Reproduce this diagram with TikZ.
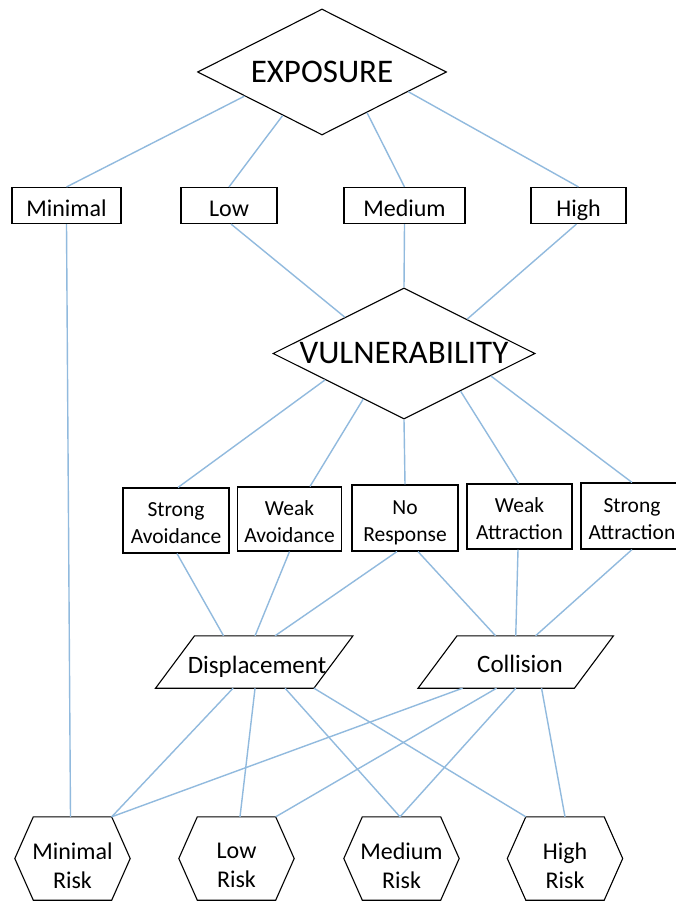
\documentclass[tikz,border=0pt]{standalone}
\usepackage{fontspec}
\setmainfont{Carlito}
\usetikzlibrary{shapes.geometric,calc}
\definecolor{linkblue}{RGB}{145,186,222}
\newcommand\mytwolines[2]{\rule{0pt}{24.4pt}#1\\#2\rule[-5pt]{0pt}{5pt}}
\begin{document}
\begin{tikzpicture}[x=1pt,y=-1pt,
  shp/.style={draw=black,line width=1.1pt},
  link/.style={draw=linkblue,line width=1.4pt},
  dia/.style={shape=diamond,shp,inner sep=0pt},
  topbox/.style={rectangle,shp,inner sep=0pt,minimum height=36pt,text height=24pt,text depth=1pt,font=\fontsize{24}{28}\selectfont},
  midbox/.style={rectangle,shp,inner sep=0pt,align=center,font=\fontsize{21.5}{27}\selectfont},
  frame/.style={rectangle,inner sep=0pt},
  ptext/.style={anchor=base,inner sep=0pt,font=\fontsize{25}{30}\selectfont},
  rtext/.style={align=center,inner sep=0pt,font=\fontsize{24}{28.5}\selectfont}
]
\useasboundingbox (0,0) rectangle (676,901);
\fill[white] (0,0) rectangle (676,901);

% level 1
\node[dia,minimum width=249pt,minimum height=126pt,aspect=1.98,font=\fontsize{33}{38}\selectfont] (expo) at (322,72) {EXPOSURE};

% level 2
\node[topbox,minimum width=109pt] (min) at (66.5,205.5) {Minimal};
\node[topbox,minimum width=96pt] (low) at (229,205.5) {Low};
\node[topbox,minimum width=121pt] (med) at (404.5,205.5) {Medium};
\node[topbox,minimum width=95pt] (high) at (578.5,205.5) {High};

% level 3
\node[dia,minimum width=262pt,minimum height=131pt,aspect=2,font=\fontsize{33}{38}\selectfont] (vul) at (404,353.5) {VULNERABILITY};

% level 4
\node[midbox,minimum width=106pt,minimum height=65pt] (sa) at (176,520.5) {\mytwolines{Strong}{Avoidance}};
\node[midbox,minimum width=104pt,minimum height=64pt] (wa) at (289.5,519) {\mytwolines{Weak}{Avoidance}};
\node[midbox,minimum width=106pt,minimum height=66pt] (nr) at (405,518) {\mytwolines{No}{Response}};
\node[midbox,minimum width=105pt,minimum height=65pt] (wat) at (519.5,516.5) {\mytwolines{Weak}{Attraction}};
\node[midbox,minimum width=102pt,minimum height=66pt] (sat) at (632,516) {\mytwolines{Strong}{Attraction}};

% level 5 (parallelograms)
\node[frame,minimum width=158pt,minimum height=52pt] (disp) at (254.25,662) {};
\node[frame,minimum width=156pt,minimum height=52pt] (coll) at (515.75,662) {};
\foreach \n in {disp,coll}
  \draw[shp] ([xshift=19.5pt]\n.north west) -- ([xshift=19.5pt]\n.north east)
    -- ([xshift=-19.5pt]\n.south east) -- ([xshift=-19.5pt]\n.south west) -- cycle;
\node[ptext] (dispt) at (257,673) {Displacement};
\node[ptext] (collt) at (520,672) {Collision};

% level 6 (hexagons)
\node[frame,minimum width=115pt,minimum height=83pt] (mr) at (72.5,858.5) {};
\node[frame,minimum width=115pt,minimum height=83pt] (lr) at (236.5,858.5) {};
\node[frame,minimum width=115pt,minimum height=83pt] (medr) at (401.5,858.5) {};
\node[frame,minimum width=115pt,minimum height=83pt] (hr) at (565,858.5) {};
\foreach \n in {mr,lr,medr,hr}
  \draw[shp] (\n.west) -- ([xshift=18.5pt]\n.north west) -- ([xshift=-18.5pt]\n.north east)
    -- (\n.east) -- ([xshift=-18.5pt]\n.south east) -- ([xshift=18.5pt]\n.south west) -- cycle;
\node[rtext] (mrt) at (72.5,865.5) {Minimal\\Risk};
\node[rtext] (lrt) at (236.5,865.5) {Low\\Risk};
\node[rtext] (medrt) at (401.5,865.5) {Medium\\Risk};
\node[rtext] (hrt) at (565,865.5) {High\\Risk};

% connectors: exposure -> level 2
\draw[link] ($(expo.west)!0.38!(expo.south)$) -- (min.north);
\draw[link] ($(expo.west)!0.685!(expo.south)$) -- (low.north);
\draw[link] ($(expo.south)!0.36!(expo.east)$) -- (med.north);
\draw[link] ($(expo.south)!0.69!(expo.east)$) -- (high.north);

% level 2 -> vulnerability / minimal risk
\draw[link] (min.south) -- ([xshift=-2pt]mr.north);
\draw[link] ([xshift=2pt]low.south) -- ($(vul.west)!0.55!(vul.north)$);
\draw[link] (med.south) -- (vul.north);
\draw[link] ([xshift=-2pt]high.south) -- ($(vul.north)!0.48!(vul.east)$);

% vulnerability -> level 4
\draw[link] ($(vul.west)!0.40!(vul.south)$) -- ([xshift=2pt]sa.north);
\draw[link] ($(vul.west)!0.69!(vul.south)$) -- ([xshift=20.5pt]wa.north);
\draw[link] (vul.south) -- (nr.north);
\draw[link] ($(vul.south)!0.43!(vul.east)$) -- ([xshift=-1pt]wat.north);
\draw[link] ($(vul.south)!0.66!(vul.east)$) -- (sat.north);

% level 4 -> displacement / collision
\draw[link] ([xshift=1pt]sa.south) -- ([xshift=48.5pt]disp.north west);
\draw[link] (wa.south) -- ([xshift=80pt]disp.north west);
\draw[link] ([xshift=-8pt]nr.south) -- ([xshift=100pt]disp.north west);
\draw[link] ([xshift=13pt]nr.south) -- ([xshift=58pt]coll.north west);
\draw[link] ([xshift=-1.5pt]wat.south) -- (coll.north);
\draw[link] (sat.south) -- ([xshift=98pt]coll.north west);

% displacement -> risks
\draw[link] ([xshift=58pt]disp.south west) -- ([xshift=-18.5pt]mr.north east);
\draw[link] ([xshift=80pt]disp.south west) -- ([xshift=3.5pt]lr.north);
\draw[link] ([xshift=110pt]disp.south west) -- ([xshift=-1.5pt]medr.north);
\draw[link] ([xshift=-19.5pt]disp.south east) -- ([xshift=18.5pt]hr.north west);

% collision -> risks
\draw[link] ([xshift=25pt]coll.south west) -- ([xshift=-18.5pt]mr.north east);
\draw[link] ([xshift=59pt]coll.south west) -- ([xshift=-18.5pt]lr.north east);
\draw[link] (coll.south) -- ([xshift=-1.5pt]medr.north);
\draw[link] ([xshift=104pt]coll.south west) -- (hr.north);
\end{tikzpicture}
\end{document}
